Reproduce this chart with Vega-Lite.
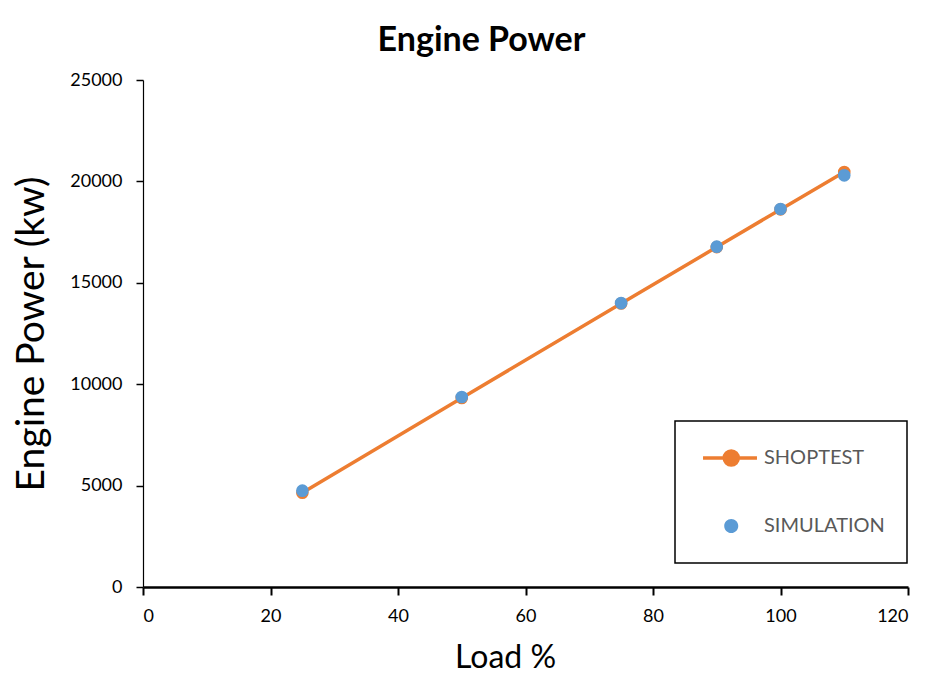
{
  "$schema": "https://vega.github.io/schema/vega-lite/v6.json",
  "width": 765,
  "height": 507,
  "autosize": "none",
  "padding": {"left": 143, "top": 80, "right": 20, "bottom": 90},
  "background": "white",
  "title": {
    "text": "Engine Power",
    "font": "Lato",
    "fontSize": 34,
    "fontWeight": "bold",
    "color": "black",
    "anchor": "middle",
    "dx": -44,
    "offset": 13
  },
  "data": {
    "values": [
      {"load": 25, "power": 4650, "series": "SHOPTEST"},
      {"load": 50, "power": 9320, "series": "SHOPTEST"},
      {"load": 75, "power": 13980, "series": "SHOPTEST"},
      {"load": 90, "power": 16760, "series": "SHOPTEST"},
      {"load": 100, "power": 18620, "series": "SHOPTEST"},
      {"load": 110, "power": 20460, "series": "SHOPTEST"},
      {"load": 25, "power": 4750, "series": "SIMULATION"},
      {"load": 50, "power": 9370, "series": "SIMULATION"},
      {"load": 75, "power": 14000, "series": "SIMULATION"},
      {"load": 90, "power": 16780, "series": "SIMULATION"},
      {"load": 100, "power": 18640, "series": "SIMULATION"},
      {"load": 110, "power": 20300, "series": "SIMULATION"}
    ]
  },
  "encoding": {
    "x": {
      "field": "load",
      "type": "quantitative",
      "title": "Load %",
      "scale": {"domain": [0, 120], "nice": false},
      "axis": {"values": [0, 20, 40, 60, 80, 100, 120], "format": "d", "grid": false, "domainColor": "black", "domainWidth": 2.5, "tickColor": "black", "tickWidth": 2, "tickSize": 8, "labelFontSize": 18, "labelPadding": 12, "titleFontSize": 32, "titlePadding": 17, "titleX": 362, "titleFontWeight": "normal", "labelColor": "black", "titleColor": "black", "labelFont": "Lato", "titleFont": "Lato"}
    },
    "y": {
      "field": "power",
      "type": "quantitative",
      "title": "Engine Power (kw)",
      "scale": {"domain": [0, 25000], "nice": false},
      "axis": {"values": [0, 5000, 10000, 15000, 20000, 25000], "format": "d", "grid": false, "domainColor": "black", "domainWidth": 1.2, "tickColor": "black", "tickWidth": 1.5, "tickSize": 7, "labelFontSize": 18, "labelPadding": 14, "titleFontSize": 39, "titlePadding": 18, "titleFontWeight": "normal", "labelColor": "black", "titleColor": "black", "labelFont": "Lato", "titleFont": "Lato"}
    }
  },
  "layer": [
    {
      "transform": [{"filter": "datum.series === 'SHOPTEST'"}],
      "mark": {"type": "line", "color": "#ED7D31", "strokeWidth": 3.5}
    },
    {
      "mark": {"type": "point", "filled": true, "size": 160, "opacity": 1, "strokeWidth": 0},
      "encoding": {
        "fill": {
          "field": "series",
          "type": "nominal",
          "scale": {"domain": ["SHOPTEST", "SIMULATION"], "range": ["#ED7D31", "#5B9BD5"]},
          "legend": {
            "title": null,
            "orient": "none",
            "legendX": 532,
            "legendY": 341,
            "strokeColor": "black",
            "padding": 22,
            "rowPadding": 38,
            "symbolSize": 676,
            "symbolType": "M-0.69,0H3.46M0.94,0A0.54,0.54 0 1,0 2.02,0A0.54,0.54 0 1,0 0.94,0",
            "symbolStrokeWidth": 3.5,
            "symbolOpacity": 1,
            "labelFontSize": 20,
            "labelFont": "Lato",
            "labelColor": "#595959",
            "labelOffset": 37,
            "encode": {
              "legend": {"update": {"strokeWidth": {"value": 1.5}}}
            }
          }
        },
        "stroke": {
          "field": "series",
          "type": "nominal",
          "scale": {"domain": ["SHOPTEST", "SIMULATION"], "range": ["#ED7D31", "transparent"]}
        }
      }
    }
  ],
  "config": {"view": {"stroke": null}, "font": "Lato"}
}
